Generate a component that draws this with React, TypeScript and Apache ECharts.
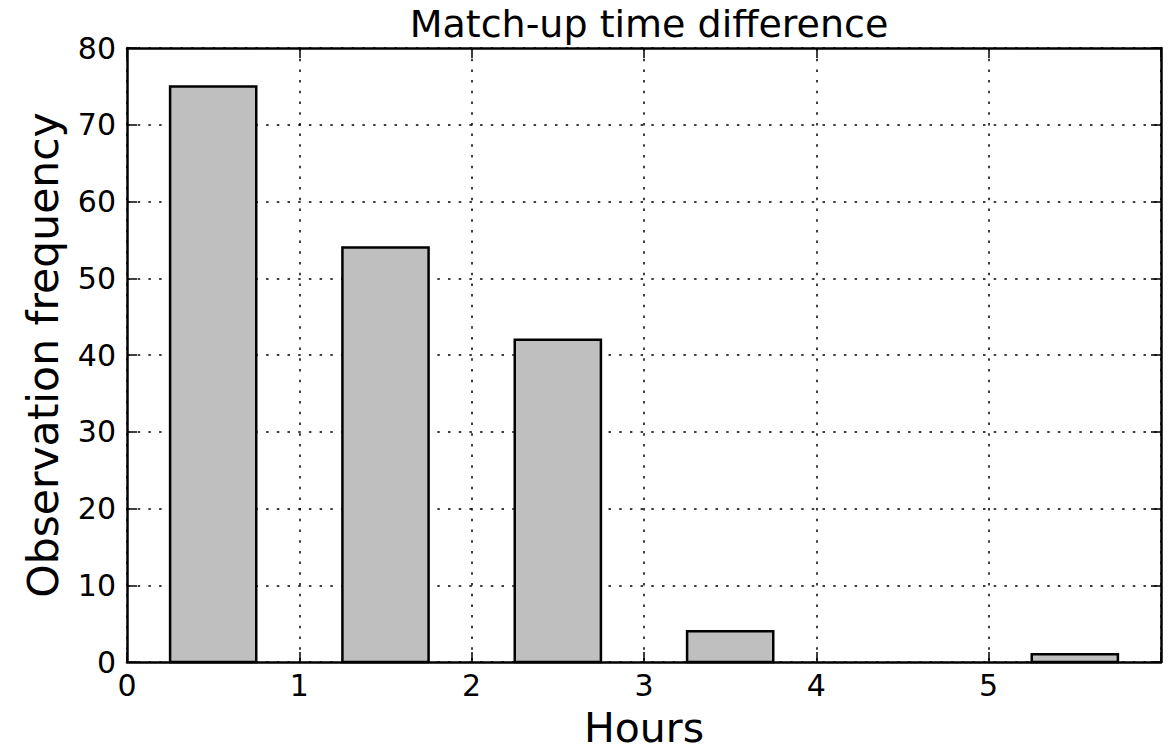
import React, { useEffect, useRef } from "react";
import * as echarts from "echarts";

const binStarts = [0.25, 1.25, 2.25, 3.25, 4.25, 5.25];
const binEnds = [0.75, 1.75, 2.75, 3.75, 4.75, 5.75];
const frequencies = [75, 54, 42, 4, 0, 1];
const yTicks = [0, 10, 20, 30, 40, 50, 60, 70, 80];
const xTicks = [0, 1, 2, 3, 4, 5];

const FONT = "DejaVu Sans";

export default function App() {
  const ref = useRef<HTMLDivElement>(null);
  useEffect(() => {
    if (!ref.current) return;
    const chart = echarts.init(ref.current, null, { renderer: "svg" });
    const data = frequencies.map((v, i) => [binStarts[i], binEnds[i], v]);
    const axisCommon = {
      axisLine: { show: true, onZero: false, lineStyle: { color: "#000", width: 2.5 } },
      axisTick: { show: true, inside: true, length: 10, lineStyle: { color: "#000", width: 1.5 } },
    };
    const gridDots = { show: true, lineStyle: { color: "#000", type: [2.5, 8.2], width: 1.5 } };
    chart.setOption({
      animation: false,
      backgroundColor: "#fff",
      title: {
        text: "Match-up time difference",
        left: 644,
        top: 0,
        textAlign: "center",
        textStyle: { fontFamily: FONT, fontSize: 38, fontWeight: "normal", color: "#000" },
      },
      grid: { left: 127, right: 12, top: 48, bottom: 92, outerBoundsMode: "none", containLabel: false },
      xAxis: [
        {
          type: "value",
          min: 0,
          max: 6,
          interval: 1,
          position: "bottom",
          ...axisCommon,
          splitLine: gridDots,
          axisLabel: {
            color: "#000",
            fontFamily: FONT,
            fontSize: 30,
            margin: 8,
            formatter: (v: number) => (xTicks.includes(v) ? String(v) : ""),
          },
          name: "Hours",
          nameLocation: "middle",
          nameGap: 45,
          nameTextStyle: { fontFamily: FONT, fontSize: 41, lineHeight: 41, color: "#000" },
        },
        {
          type: "value",
          min: 0,
          max: 6,
          interval: 1,
          position: "top",
          ...axisCommon,
          splitLine: { show: false },
          axisLabel: { show: false },
        },
      ],
      yAxis: [
        {
          type: "value",
          min: 0,
          max: 80,
          interval: 10,
          position: "left",
          ...axisCommon,
          splitLine: gridDots,
          axisLabel: {
            color: "#000",
            fontFamily: FONT,
            fontSize: 30,
            margin: 11,
            formatter: (v: number) => (yTicks.includes(v) ? String(v) : ""),
          },
          name: "Observation frequency",
          nameLocation: "middle",
          nameGap: 62,
          nameTextStyle: { fontFamily: FONT, fontSize: 42.5, color: "#000" },
        },
        {
          type: "value",
          min: 0,
          max: 80,
          interval: 10,
          position: "right",
          ...axisCommon,
          splitLine: { show: false },
          axisLabel: { show: false },
        },
      ],
      series: [
        {
          type: "custom",
          xAxisIndex: 0,
          yAxisIndex: 0,
          data,
          renderItem: (params: any, api: any) => {
            const x0 = api.value(0);
            const x1 = api.value(1);
            const v = api.value(2);
            if (!v) return null;
            const p0 = api.coord([x0, v]);
            const p1 = api.coord([x1, 0]);
            return {
              type: "rect",
              shape: { x: p0[0], y: p0[1], width: p1[0] - p0[0], height: p1[1] - p0[1] },
              style: { fill: "#bfbfbf", stroke: "#000", lineWidth: 2.5 },
            };
          },
          z: 3,
        },
      ],
    });
    return () => chart.dispose();
  }, []);
  return (
    <div
      ref={ref}
      style={{ position: "fixed", left: 0, top: 0, width: 1173, height: 754 }}
    />
  );
}
